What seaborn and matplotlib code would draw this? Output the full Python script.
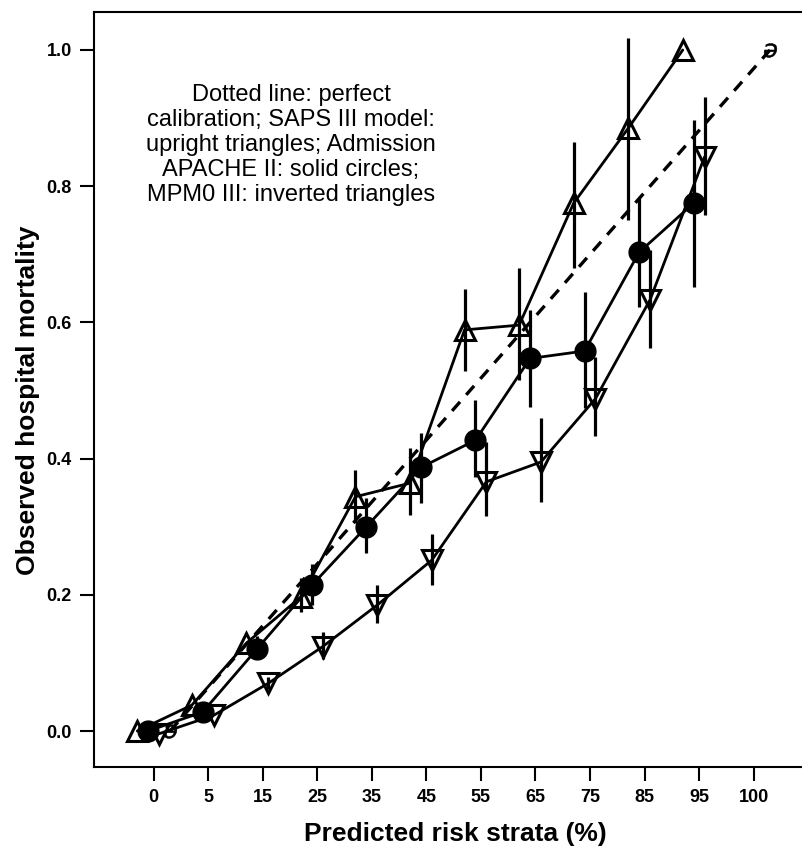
import numpy as np
import pandas as pd
import matplotlib
matplotlib.use("Agg")
import matplotlib.pyplot as plt
import seaborn as sns

# ---------------- data ----------------
strata_labels = ["0", "5", "15", "25", "35", "45", "55", "65", "75", "85", "95", "100"]

# SAPS III model (upright triangles), strata 0..95
saps_obs = [0.0, 0.038, 0.129, 0.197, 0.344, 0.364, 0.589, 0.596, 0.775, 0.885, 1.0]
saps_lo = [0.0, 0.038, 0.129, 0.175, 0.305, 0.317, 0.528, 0.515, 0.680, 0.750, 1.0]
saps_hi = [0.0, 0.038, 0.129, 0.225, 0.383, 0.416, 0.649, 0.680, 0.865, 1.018, 1.0]

# Admission APACHE II (solid circles)
apache_obs = [0.0, 0.028, 0.121, 0.214, 0.300, 0.387, 0.427, 0.547, 0.558, 0.703, 0.775]
apache_lo = [0.0, 0.028, 0.105, 0.185, 0.261, 0.335, 0.373, 0.476, 0.474, 0.623, 0.652]
apache_hi = [0.0, 0.028, 0.140, 0.245, 0.342, 0.437, 0.486, 0.618, 0.644, 0.782, 0.897]

# MPM0 III (inverted triangles)
mpm_obs = [-0.004, 0.023, 0.070, 0.124, 0.185, 0.251, 0.366, 0.395, 0.488, 0.633, 0.843]
mpm_lo = [-0.004, 0.023, 0.062, 0.105, 0.158, 0.214, 0.315, 0.337, 0.433, 0.562, 0.758]
mpm_hi = [-0.004, 0.023, 0.080, 0.146, 0.214, 0.290, 0.425, 0.460, 0.549, 0.706, 0.931]

# perfect calibration (dashed)
perfect_idx = [0, 11]
perfect_obs = [0.0, 1.0]

annotation = ("Dotted line: perfect\ncalibration; SAPS III model:\nupright triangles; Admission\n"
              "APACHE II: solid circles;\nMPM0 III: inverted triangles")

# ---------------- styling ----------------
sns.set_style("ticks")
plt.rcParams["font.family"] = ["Liberation Sans", "DejaVu Sans"]
plt.rcParams.update({"text.color": "black", "axes.labelcolor": "black",
                     "xtick.color": "black", "ytick.color": "black",
                     "axes.edgecolor": "black"})

fig = plt.figure(figsize=(8.03, 8.52), dpi=100)
W, H = 803, 852
ax = fig.add_axes([94 / W, 85 / H, 709 / W, 755 / H])

dodge = {"saps": -0.3, "apache": -0.1, "mpm": 0.1, "perfect": 0.3}

def frame(obs, lo, hi, key):
    n = len(obs)
    return pd.DataFrame({"pos": np.arange(n) + dodge[key], "obs": obs, "lo": lo, "hi": hi})

df_saps = frame(saps_obs, saps_lo, saps_hi, "saps")
df_apache = frame(apache_obs, apache_lo, apache_hi, "apache")
df_mpm = frame(mpm_obs, mpm_lo, mpm_hi, "mpm")
df_perf = pd.DataFrame({"pos": np.array(perfect_idx) + dodge["perfect"], "obs": perfect_obs})

lw = 2.0
for d in (df_saps, df_apache, df_mpm):
    ax.vlines(d["pos"], d["lo"], d["hi"], color="black", lw=2.3, zorder=2)

sns.lineplot(data=df_saps, x="pos", y="obs", ax=ax, color="black", lw=lw,
             marker="^", markersize=15, markerfacecolor="none", markeredgecolor="black",
             markeredgewidth=2.2, estimator=None, errorbar=None, sort=False, zorder=3)
sns.lineplot(data=df_apache, x="pos", y="obs", ax=ax, color="black", lw=lw,
             marker="o", markersize=15, markerfacecolor="black", markeredgecolor="black",
             markeredgewidth=1, estimator=None, errorbar=None, sort=False, zorder=3)
sns.lineplot(data=df_mpm, x="pos", y="obs", ax=ax, color="black", lw=lw,
             marker="v", markersize=15, markerfacecolor="none", markeredgecolor="black",
             markeredgewidth=2.2, estimator=None, errorbar=None, sort=False, zorder=3)
sns.lineplot(data=df_perf, x="pos", y="obs", ax=ax, color="black", lw=2.4,
             linestyle=(0, (3.6, 2.8)), marker="$\u0259$", markersize=10,
             markerfacecolor="black", markeredgecolor="black",
             markeredgewidth=0.4, estimator=None, errorbar=None, sort=False, zorder=4)

# ---------------- axes ----------------
ax.set_xlim(-1.094, 11.905)
ax.set_ylim(-36 / 681, 1 + 38 / 681)
ax.set_xticks(range(len(strata_labels)))
ax.set_xticklabels(strata_labels)
yt = [0.0, 0.2, 0.4, 0.6, 0.8, 1.0]
ax.set_yticks(yt)
ax.set_yticklabels([f"{v:.1f}" for v in yt])
ax.tick_params(axis="both", direction="out", length=10, width=1.5, color="black",
               labelcolor="black", labelsize=13, pad=6)
for lab in ax.get_xticklabels() + ax.get_yticklabels():
    lab.set_fontweight("bold")

for s in ("left", "bottom", "top"):
    ax.spines[s].set_visible(True)
    ax.spines[s].set_linewidth(1.5)
    ax.spines[s].set_color("black")
ax.spines["right"].set_visible(False)

ax.set_xlabel("Predicted risk strata (%)", fontsize=19, fontweight="bold", color="black")
ax.set_ylabel("Observed hospital mortality", fontsize=19, fontweight="bold", color="black")
ax.xaxis.set_label_coords((455 - 94) / 709, (767 - 822) / 755)
ax.yaxis.set_label_coords((40 - 94) / 709, (767 - 400) / 755)

ax.text((291 - 94) / 709, (767 - 145) / 755, annotation, transform=ax.transAxes,
        ha="center", va="center", fontsize=17, linespacing=1.17, color="black")

fig.savefig("out.png", dpi=100)
